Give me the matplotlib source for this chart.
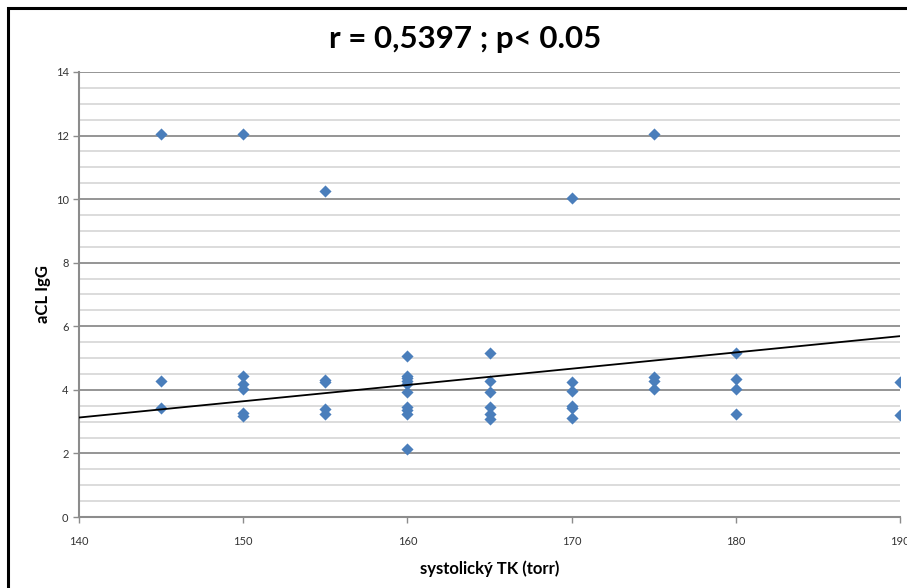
import numpy as np
import matplotlib
matplotlib.use('Agg')
import matplotlib.pyplot as plt
from matplotlib.patches import Rectangle

# systolic pressure (x) and aCL IgG (y)
SYS_TK = [145, 145, 145,
          150, 150, 150, 150, 150, 150,
          155, 155, 155, 155, 155,
          160, 160, 160, 160, 160, 160, 160, 160, 160, 160,
          165, 165, 165, 165, 165, 165,
          170, 170, 170, 170, 170, 170,
          175, 175, 175, 175,
          180, 180, 180, 180,
          190, 190]
ACL_IGG = [12.05, 4.28, 3.42,
           12.05, 4.43, 4.17, 4.02, 3.26, 3.19,
           10.27, 4.30, 4.24, 3.39, 3.23,
           5.08, 4.43, 4.36, 4.28, 4.17, 3.92, 3.47, 3.36, 3.24, 2.15,
           5.15, 4.28, 3.92, 3.47, 3.23, 3.09,
           10.05, 4.25, 3.97, 3.49, 3.44, 3.12,
           12.05, 4.39, 4.28, 4.02,
           5.15, 4.34, 4.02, 3.23,
           4.24, 3.20]

# linear trend line endpoints
TREND_X = [140, 190]
TREND_Y = [3.13, 5.69]

TITLE = 'r = 0,5397 ; p< 0.05'
X_LABEL = 'systolický TK (torr)'
Y_LABEL = 'aCL IgG'

plt.rcParams['font.family'] = ['Lato', 'DejaVu Sans']

fig = plt.figure(figsize=(9.07, 5.88), dpi=100)
ax = fig.add_axes([0.0871, 0.1207, 0.9052, 0.7569])

ax.set_xlim(140, 190)
ax.set_ylim(0, 14)
ax.set_xticks(np.arange(140, 191, 10))
ax.set_yticks(np.arange(0, 15, 2))
ax.set_yticks(np.arange(0, 14.1, 0.5), minor=True)
ax.grid(True, which='minor', axis='y', color='#d9d9d9', linewidth=1.3)
ax.grid(True, which='major', axis='y', color='#8c8c8c', linewidth=1.3)
ax.set_axisbelow(True)
ax.tick_params(axis='y', which='minor', length=0)
ax.tick_params(axis='both', which='major', length=4, width=1, color='#8c8c8c',
               labelsize=8, labelcolor='#333333')
ax.tick_params(axis='x', pad=10)

for side in ['top', 'right']:
    ax.spines[side].set_visible(False)
for side in ['left', 'bottom']:
    ax.spines[side].set_color('#8c8c8c')
    ax.spines[side].set_linewidth(1.5)

ax.scatter(SYS_TK, ACL_IGG, marker='D', s=38, color='#4a7ebb', zorder=3,
           linewidths=0)
ax.plot(TREND_X, TREND_Y, color='black', linewidth=1.3, zorder=4)

fig.text(0.513, 0.934, TITLE, ha='center', va='center', fontsize=22.5,
         fontweight='bold')
ax.set_xlabel(X_LABEL, fontsize=12, fontweight='bold', labelpad=9)
ax.set_ylabel(Y_LABEL, fontsize=12, fontweight='bold', labelpad=3)

# outer chart frame (partly cropped in the original)
fig.patches.append(Rectangle((8 / 907, -0.1), 1.2, 1 - 8 / 588 + 0.1,
                             transform=fig.transFigure, fill=False,
                             edgecolor='black', linewidth=2.2))

fig.savefig('out.png', dpi=100)
